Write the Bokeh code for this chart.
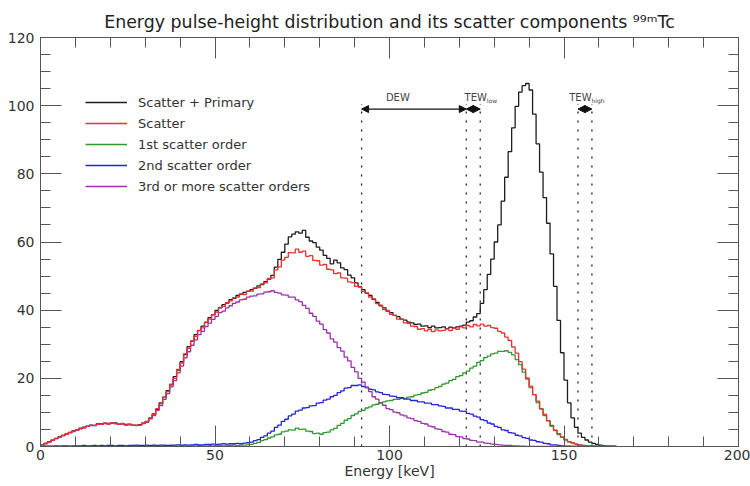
from bokeh.plotting import figure
from bokeh.models import (Range1d, LinearAxis, SingleIntervalTicker, Legend,
                          LegendItem, Label, Arrow, NormalHead)
from bokeh.embed import file_html
from bokeh.resources import INLINE

# 1 keV wide energy bins, left edges 0..164 keV
bin_edges = list(range(0, 166))

# Counts per bin (arbitrary units)
scatter_primary = [
    0.3, 0.9, 1.4, 1.8, 2.4, 2.8, 3.2, 3.7, 4.1, 4.6,
    4.8, 5.3, 5.7, 5.9, 6.3, 6.1, 6.7, 6.6, 6.8, 6.8,
    6.9, 6.9, 6.5, 6.7, 6.5, 6.4, 6.3, 6.2, 6.4, 6.8,
    7.4, 8.3, 9.6, 10.9, 12.8, 14.5, 16.4, 18.1, 20.5, 22.4,
    24.9, 27.0, 29.3, 30.9, 32.8, 34.0, 35.3, 36.4, 37.8, 38.6,
    39.9, 40.7, 41.6, 42.1, 43.1, 43.5, 44.3, 44.7, 45.2, 45.5,
    46.0, 46.4, 47.1, 47.5, 48.4, 49.1, 50.2, 52.6, 54.9, 57.0,
    59.4, 61.5, 62.3, 63.0, 62.6, 63.4, 61.4, 60.3, 59.8, 58.5,
    57.6, 56.1, 55.2, 53.6, 54.7, 53.9, 52.4, 51.9, 50.3, 49.5,
    48.0, 46.9, 46.0, 45.0, 44.3, 43.2, 42.3, 41.3, 40.7, 39.7,
    39.3, 38.5, 38.1, 37.4, 37.1, 36.5, 36.3, 35.8, 35.9, 35.3,
    35.4, 34.9, 35.3, 34.8, 34.9, 35.1, 34.6, 35.0, 34.8, 35.1,
    35.3, 35.6, 36.5, 36.9, 38.0, 39.0, 42.0, 46.0, 50.5, 55.0,
    60.0, 65.0, 72.0, 79.0, 86.5, 93.5, 99.8, 104.0, 105.9, 106.5,
    104.6, 97.5, 88.8, 80.5, 73.0, 65.5, 56.5, 47.0, 37.0, 27.5,
    19.5, 12.8, 8.4, 5.6, 3.9, 2.7, 1.9, 1.3, 0.9, 0.6,
    0.4, 0.2, 0.1, 0.0, 0.0,
]

scatter = [
    0.4, 0.9, 1.3, 1.9, 2.3, 2.7, 3.3, 3.6, 4.2, 4.5,
    4.9, 5.4, 5.5, 6.0, 6.2, 6.2, 6.6, 6.5, 6.9, 6.6,
    7.0, 6.7, 6.6, 6.8, 6.3, 6.6, 6.2, 6.3, 6.3, 6.9,
    7.3, 8.4, 9.4, 11.1, 12.5, 14.4, 16.1, 18.3, 20.0, 22.6,
    24.5, 27.2, 28.8, 31.0, 32.3, 34.1, 34.8, 36.5, 37.4, 38.7,
    39.4, 40.8, 41.1, 42.2, 42.7, 43.6, 43.8, 44.8, 44.6, 45.6,
    45.6, 46.5, 46.6, 47.7, 48.0, 49.3, 49.5, 51.8, 52.7, 54.7,
    55.5, 56.9, 56.8, 57.9, 57.0, 57.3, 55.8, 56.0, 54.6, 54.5,
    53.2, 53.4, 52.0, 51.8, 50.7, 50.9, 49.5, 49.4, 48.3, 48.1,
    47.0, 46.8, 45.5, 45.1, 43.8, 43.3, 41.9, 41.5, 40.2, 39.9,
    38.8, 38.5, 37.4, 37.3, 36.3, 36.1, 35.3, 35.2, 34.4, 34.6,
    33.9, 34.4, 33.7, 34.2, 33.9, 34.1, 34.5, 34.0, 34.7, 34.4,
    35.1, 34.8, 35.5, 35.1, 35.8, 35.4, 35.9, 35.3, 35.5, 34.9,
    34.7, 33.8, 33.3, 32.1, 31.1, 29.2, 27.4, 24.9, 22.7, 20.1,
    17.7, 15.2, 13.3, 11.0, 9.4, 7.5, 6.2, 4.7, 3.8, 2.7,
    2.1, 1.4, 1.1, 0.7, 0.5, 0.3, 0.2, 0.1, 0.1, 0.0,
    0.0, 0.0, 0.0, 0.0, 0.0,
]

first_order = [
    0.0, 0.0, 0.0, 0.0, 0.0, 0.0, 0.0, 0.0, 0.0, 0.0,
    0.0, 0.1, 0.0, 0.0, 0.1, 0.0, 0.1, 0.0, 0.1, 0.1,
    0.1, 0.0, 0.1, 0.1, 0.1, 0.1, 0.0, 0.1, 0.1, 0.1,
    0.1, 0.1, 0.2, 0.1, 0.1, 0.2, 0.1, 0.2, 0.2, 0.1,
    0.2, 0.2, 0.1, 0.2, 0.2, 0.3, 0.2, 0.2, 0.3, 0.2,
    0.3, 0.3, 0.2, 0.3, 0.3, 0.4, 0.3, 0.4, 0.4, 0.5,
    0.6, 0.9, 1.2, 1.7, 2.0, 2.5, 2.8, 3.4, 3.6, 4.3,
    4.5, 4.9, 4.8, 5.4, 5.0, 5.1, 4.5, 4.4, 3.8, 3.9,
    3.6, 4.1, 4.2, 4.9, 5.3, 6.2, 6.8, 7.7, 8.2, 9.1,
    9.6, 10.3, 10.6, 11.3, 11.6, 12.2, 12.4, 12.9, 13.1, 13.4,
    13.5, 13.8, 13.8, 14.1, 14.1, 14.5, 14.6, 15.1, 15.2, 15.7,
    15.9, 16.5, 16.7, 17.3, 17.6, 18.3, 18.6, 19.3, 19.7, 20.5,
    20.8, 21.6, 22.1, 23.0, 23.6, 24.7, 25.2, 26.1, 26.5, 27.2,
    27.4, 27.9, 27.9, 28.1, 27.6, 26.9, 25.5, 24.0, 21.8, 19.8,
    17.3, 15.2, 12.9, 11.1, 9.1, 7.6, 5.9, 4.8, 3.5, 2.8,
    1.9, 1.4, 1.0, 0.7, 0.5, 0.3, 0.2, 0.1, 0.1, 0.0,
    0.0, 0.0, 0.0, 0.0, 0.0,
]

second_order = [
    0.0, 0.1, 0.1, 0.1, 0.2, 0.1, 0.2, 0.2, 0.1, 0.2,
    0.2, 0.2, 0.3, 0.2, 0.2, 0.3, 0.2, 0.3, 0.2, 0.3,
    0.3, 0.2, 0.3, 0.3, 0.2, 0.3, 0.3, 0.4, 0.3, 0.3,
    0.4, 0.3, 0.4, 0.3, 0.4, 0.4, 0.3, 0.4, 0.4, 0.5,
    0.4, 0.5, 0.4, 0.5, 0.6, 0.5, 0.5, 0.6, 0.6, 0.7,
    0.6, 0.7, 0.8, 0.7, 0.8, 0.8, 0.9, 0.8, 1.0, 1.1,
    1.3, 1.7, 2.0, 2.7, 3.1, 3.9, 4.5, 5.6, 6.3, 7.4,
    8.0, 9.0, 9.5, 10.4, 10.7, 11.3, 11.4, 11.9, 12.0, 12.7,
    12.9, 13.6, 13.9, 14.6, 15.0, 15.8, 16.3, 17.1, 17.3, 17.9,
    17.9, 18.1, 17.6, 17.4, 16.8, 16.6, 16.0, 15.8, 15.3, 15.2,
    14.8, 14.7, 14.3, 14.3, 13.9, 13.9, 13.5, 13.5, 13.1, 13.1,
    12.7, 12.7, 12.3, 12.3, 11.9, 11.8, 11.3, 11.3, 10.9, 10.9,
    10.4, 10.3, 9.7, 9.5, 8.9, 8.6, 7.9, 7.6, 6.9, 6.6,
    5.9, 5.6, 4.9, 4.7, 4.1, 3.9, 3.3, 3.1, 2.6, 2.4,
    1.9, 1.8, 1.4, 1.3, 0.9, 0.8, 0.5, 0.5, 0.3, 0.2,
    0.1, 0.1, 0.0, 0.0, 0.0, 0.0, 0.0, 0.0, 0.0, 0.0,
    0.0, 0.0, 0.0, 0.0, 0.0,
]

third_plus = [
    0.4, 0.8, 1.3, 1.8, 2.3, 2.7, 3.2, 3.6, 4.1, 4.4,
    4.8, 5.2, 5.5, 5.9, 6.1, 6.2, 6.5, 6.5, 6.7, 6.6,
    6.8, 6.7, 6.5, 6.6, 6.3, 6.4, 6.2, 6.1, 6.2, 6.7,
    7.1, 8.1, 9.1, 10.6, 12.0, 13.8, 15.5, 17.5, 19.3, 21.6,
    23.6, 26.0, 27.8, 29.7, 31.3, 32.8, 33.8, 35.2, 36.2, 37.3,
    38.2, 39.3, 39.7, 40.7, 41.3, 42.0, 42.4, 43.0, 43.2, 43.8,
    44.1, 44.2, 44.7, 44.8, 45.3, 45.4, 45.7, 45.2, 45.0, 44.5,
    44.4, 43.8, 43.8, 43.0, 42.5, 41.4, 40.5, 39.1, 38.2, 36.8,
    35.9, 34.3, 33.3, 31.6, 30.6, 29.0, 28.0, 26.2, 25.1, 23.2,
    21.9, 20.0, 18.9, 17.2, 16.1, 14.6, 13.9, 12.7, 12.1, 11.1,
    10.8, 10.1, 9.9, 9.3, 9.0, 8.4, 8.2, 7.6, 7.4, 6.8,
    6.6, 6.0, 5.8, 5.2, 5.0, 4.4, 4.2, 3.6, 3.5, 2.9,
    2.8, 2.3, 2.2, 1.8, 1.7, 1.3, 1.3, 1.0, 0.9, 0.7,
    0.6, 0.5, 0.4, 0.3, 0.3, 0.2, 0.2, 0.1, 0.1, 0.0,
    0.0, 0.0, 0.0, 0.0, 0.0, 0.0, 0.0, 0.0, 0.0, 0.0,
    0.0, 0.0, 0.0, 0.0, 0.0, 0.0, 0.0, 0.0, 0.0, 0.0,
    0.0, 0.0, 0.0, 0.0, 0.0,
]

series_labels = ["Scatter + Primary", "Scatter", "1st scatter order",
                 "2nd scatter order", "3rd or more scatter orders"]
series_colors = ["#1e1e1e", "#ee3030", "#2f9a2f", "#2424dc", "#9a32aa"]

# Energy windows (keV): dual-energy window and the two triple-energy side windows
window_lo = [92, 122, 154]
window_hi = [122, 126, 158]
window_name = ["DEW", "TEW", "TEW"]
window_sub = ["", "low", "high"]
window_marker_top = 100.5
window_arrow_y = 99

FONT = "DejaVu Sans"
AXIS_COLOR = "#555555"
TEXT_COLOR = "#333333"

p = figure(width=750, height=486, output_backend="svg", toolbar_location=None,
           x_range=Range1d(0, 200), y_range=Range1d(0, 120),
           min_border_left=40, min_border_right=12,
           min_border_top=37, min_border_bottom=40,
           title="Energy pulse-height distribution and its scatter components \u2079\u2079\u1d50Tc")
p.title.align = "center"
p.title.text_font = FONT
p.title.text_font_size = "17.4px"
p.title.text_font_style = "normal"
p.title.text_color = "#222222"
p.title.standoff = 12
p.grid.visible = False
p.outline_line_color = AXIS_COLOR
p.outline_line_width = 1
p.background_fill_color = "white"
p.border_fill_color = "white"


def style_axis(ax, show_labels):
    ax.major_tick_in = 21
    ax.major_tick_out = 0
    ax.minor_tick_in = 10
    ax.minor_tick_out = 0
    ax.axis_line_color = AXIS_COLOR
    ax.major_tick_line_color = AXIS_COLOR
    ax.minor_tick_line_color = AXIS_COLOR
    ax.major_label_text_font = FONT
    ax.major_label_text_font_size = "14px"
    ax.major_label_text_color = TEXT_COLOR if show_labels else None
    if not show_labels:
        ax.major_label_text_font_size = "0px"
        ax.major_label_standoff = 0


x_ticker = SingleIntervalTicker(interval=50, num_minor_ticks=5)
y_ticker = SingleIntervalTicker(interval=20, num_minor_ticks=4)

xb = p.xaxis[0]
xb.ticker = x_ticker
style_axis(xb, True)
xb.major_label_standoff = 3
xb.axis_label = "Energy [keV]"
xb.axis_label_text_font = FONT
xb.axis_label_text_font_size = "14px"
xb.axis_label_text_font_style = "normal"
xb.axis_label_text_color = TEXT_COLOR
xb.axis_label_standoff = 0

yl = p.yaxis[0]
yl.ticker = y_ticker
style_axis(yl, True)
yl.major_label_standoff = 6

xt = LinearAxis(ticker=x_ticker)
style_axis(xt, False)
p.add_layout(xt, "above")
yr = LinearAxis(ticker=y_ticker)
style_axis(yr, False)
p.add_layout(yr, "right")

# window boundaries (dotted) and width arrows
bounds = sorted(set(window_lo + window_hi))
p.segment(x0=bounds, y0=[0] * len(bounds), x1=bounds,
          y1=[window_marker_top] * len(bounds),
          line_color="#222222", line_width=1.3, line_dash="2 7")
for lo, hi in zip(window_lo, window_hi):
    p.add_layout(Arrow(
        start=NormalHead(size=7, fill_color="#111111", line_color="#111111"),
        end=NormalHead(size=7, fill_color="#111111", line_color="#111111"),
        x_start=lo, y_start=window_arrow_y, x_end=hi, y_end=window_arrow_y,
        line_color="#111111", line_width=1.3))

# window names (with subscripts for the TEW side windows)
name_pos = [(102.4, "center"), (121.5, "left"), (151.5, "left")]
sub_x = [None, 127.9, 157.9]
for (nx, align), name, sub, sx in zip(name_pos, window_name, window_sub, sub_x):
    p.add_layout(Label(x=nx, y=102.5, text=name, text_align=align,
                       text_baseline="alphabetic", text_font=FONT,
                       text_font_size="10px", text_color="#444444"))
    if sub:
        p.add_layout(Label(x=sx, y=101.6, text=sub, text_align="left",
                           text_baseline="alphabetic", text_font=FONT,
                           text_font_size="6px", text_color="#444444"))

# histograms drawn as steps from the bin edges
all_series = [scatter_primary, scatter, first_order, second_order, third_plus]
renderers = [None] * 5
for idx in [0, 2, 3, 4, 1]:
    vals = all_series[idx]
    renderers[idx] = p.step(x=bin_edges, y=vals + [vals[-1]], mode="after",
                            line_color=series_colors[idx], line_width=1.3)

legend = Legend(
    items=[LegendItem(label=lab, renderers=[r]) for lab, r in zip(series_labels, renderers)],
    location=(45, 251), glyph_width=42, glyph_height=18, label_height=18,
    spacing=3, padding=0, margin=0, label_standoff=11,
    label_text_font=FONT, label_text_font_size="13px", label_text_color=TEXT_COLOR,
    border_line_color=None, background_fill_alpha=0)
p.add_layout(legend)

open("out.html", "w").write(file_html(p, INLINE))
